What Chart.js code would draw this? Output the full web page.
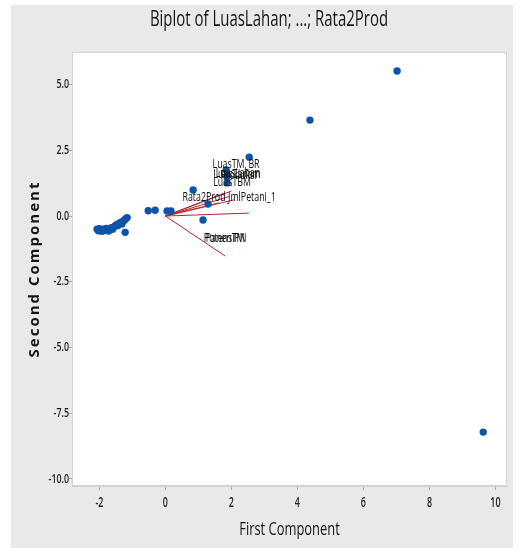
<!DOCTYPE html>
<html>
<head>
<meta charset="utf-8">
<script src="https://cdn.jsdelivr.net/npm/chart.js@4.4.1/dist/chart.umd.min.js"></script>
<style>
  html, body { margin: 0; padding: 0; background: #ffffff; }
  #wrap { position: absolute; left: 0; top: 0; width: 522px; height: 548px; }
</style>
</head>
<body>
<div id="wrap"><canvas id="biplot" width="522" height="548"></canvas></div>
<script>
// Observation scores on the first two principal components
const scoreX = [
  -2.07, -2.03, -2.00, -1.96, -1.92, -1.88, -1.84, -1.80, -1.76, -1.72,
  -1.68, -1.64, -1.60, -1.56, -1.52, -1.48, -1.44, -1.40, -1.36, -1.32,
  -1.28, -1.24, -1.20, -1.16, -1.22,
  -0.52, -0.31, 0.05, 0.17, 0.84, 1.29, 1.14, 1.84, 1.86, 1.87, 2.54,
  4.38, 7.02, 9.63
];
const scoreY = [
  -0.50, -0.56, -0.48, -0.53, -0.58, -0.50, -0.55, -0.47, -0.52, -0.57,
  -0.49, -0.44, -0.50, -0.42, -0.38, -0.33, -0.36, -0.28, -0.24, -0.30,
  -0.20, -0.15, -0.10, -0.06, -0.62,
  0.20, 0.22, 0.19, 0.19, 0.99, 0.46, -0.15, 1.75, 1.50, 1.26, 2.24,
  3.65, 5.52, -8.22
];

// Variable loading vectors (end points, drawn from the origin)
const loadingX = [1.81, 2.53, 2.10, 1.95, 1.80, 1.62, 2.00];
const loadingY = [-1.52, 0.11, 0.62, 0.75, 0.88, 0.50, 0.95];

// Variable names and where their labels sit
const varNames = ["LuasTM_BR", "LuasLahan", "Produksi", "LuasTanam", "LuasTBM",
                  "Rata2Prod", "JmlPetani_1", "PanenTM", "PotensiPN"];
const varLabelX = [2.14, 2.20, 2.22, 2.17, 2.02, 1.17, 2.62, 1.81, 1.81];
const varLabelY = [1.95, 1.62, 1.55, 1.58, 1.30, 0.72, 0.72, -0.84, -0.86];

// Axis ticks
const xTicks = [-2, 0, 2, 4, 6, 8, 10];
const yTicks = [5.0, 2.5, 0.0, -2.5, -5.0, -7.5, -10.0];

const chartTitle = "Biplot of LuasLahan; ...; Rata2Prod";
const xTitle = "First Component";
const yTitle = "Second Component";

const SANS = '"Open Sans", "DejaVu Sans", sans-serif';

const scoreData = scoreX.map((x, i) => ({ x: x, y: scoreY[i] }));

const vectorSets = loadingX.map((x, i) => ({
  data: [{ x: 0, y: 0 }, { x: x, y: loadingY[i] }],
  showLine: true,
  borderColor: '#b3262a',
  borderWidth: 1,
  pointRadius: 0,
  order: 2
}));

// Draws text squeezed horizontally (condensed face look)
function condensedText(ctx, text, x, y, squeeze) {
  ctx.save();
  ctx.translate(x, y);
  ctx.scale(squeeze, 1);
  ctx.fillText(text, 0, 0);
  ctx.restore();
}

const panelPlugin = {
  id: 'panel',
  beforeDraw(chart) {
    const ctx = chart.ctx;
    const a = chart.chartArea;
    ctx.save();
    ctx.fillStyle = '#e9e9e9';
    ctx.fillRect(11, 5, 502, 543);
    ctx.fillStyle = '#ffffff';
    ctx.fillRect(a.left, a.top, a.right - a.left, a.bottom - a.top);
    ctx.restore();
  },
  afterDraw(chart) {
    const ctx = chart.ctx;
    const a = chart.chartArea;
    const sx = chart.scales.x, sy = chart.scales.y;
    ctx.save();
    ctx.strokeStyle = '#d2d2d2';
    ctx.lineWidth = 1;
    ctx.strokeRect(a.left + 0.5, a.top + 0.5, a.right - a.left - 1, a.bottom - a.top - 1);

    ctx.fillStyle = '#151515';
    ctx.textAlign = 'center';
    ctx.textBaseline = 'middle';
    ctx.font = '500 22px ' + SANS;
    condensedText(ctx, chartTitle, 269, 20, 0.68);

    ctx.font = '500 19px ' + SANS;
    condensedText(ctx, xTitle, (a.left + a.right) / 2, 530, 0.68);

    // tick labels, placed through the chart's own scales
    ctx.fillStyle = '#1e1e1e';
    ctx.font = '600 14px ' + SANS;
    xTicks.forEach(v => condensedText(ctx, String(v), sx.getPixelForValue(v), 503, 0.64));
    ctx.textAlign = 'right';
    ctx.font = '600 13px ' + SANS;
    yTicks.forEach(v => condensedText(ctx, v.toFixed(1), 69, sy.getPixelForValue(v), 0.68));

    ctx.textAlign = 'center';
    ctx.fillStyle = '#151515';
    ctx.save();
    ctx.translate(35, (a.top + a.bottom) / 2);
    ctx.rotate(-Math.PI / 2);
    ctx.font = 'bold 15px ' + SANS;
    if ('letterSpacing' in ctx) ctx.letterSpacing = '2px';
    ctx.fillText(yTitle, 0, 0);
    ctx.restore();

    ctx.restore();
  }
};

const labelPlugin = {
  id: 'varLabels',
  afterDatasetsDraw(chart) {
    const ctx = chart.ctx;
    const sx = chart.scales.x, sy = chart.scales.y;
    ctx.save();
    ctx.font = '13px ' + SANS;
    ctx.fillStyle = '#0d0d0d';
    ctx.textAlign = 'center';
    ctx.textBaseline = 'middle';
    varNames.forEach((name, i) => {
      condensedText(ctx, name, sx.getPixelForValue(varLabelX[i]), sy.getPixelForValue(varLabelY[i]), 0.68);
    });
    ctx.restore();
  }
};

new Chart(document.getElementById('biplot'), {
  type: 'scatter',
  data: {
    datasets: [
      {
        data: scoreData,
        pointRadius: 3.7,
        pointHoverRadius: 3.7,
        backgroundColor: '#0b55a8',
        borderWidth: 0,
        order: 1
      },
      ...vectorSets
    ]
  },
  options: {
    responsive: false,
    animation: false,
    events: [],
    layout: { padding: { top: 52, right: 15, bottom: 0, left: 0 } },
    plugins: {
      legend: { display: false },
      tooltip: { enabled: false },
      title: { display: false }
    },
    scales: {
      x: {
        type: 'linear',
        min: -2.83,
        max: 10.35,
        afterBuildTicks: s => { s.ticks = xTicks.map(v => ({ value: v })); },
        afterFit: s => { s.height = 62; },
        ticks: { display: false },
        grid: { drawOnChartArea: false, drawTicks: true, tickLength: 4, color: '#aaaaaa' },
        border: { display: true, color: '#d2d2d2' },
        title: { display: false }
      },
      y: {
        type: 'linear',
        min: -10.27,
        max: 6.24,
        afterBuildTicks: s => { s.ticks = yTicks.map(v => ({ value: v })); },
        afterFit: s => { s.width = 72; },
        ticks: { display: false },
        grid: { drawOnChartArea: false, drawTicks: true, tickLength: 3, color: '#aaaaaa' },
        border: { display: true, color: '#d2d2d2' },
        title: { display: false }
      }
    }
  },
  plugins: [panelPlugin, labelPlugin]
});
</script>
</body>
</html>
